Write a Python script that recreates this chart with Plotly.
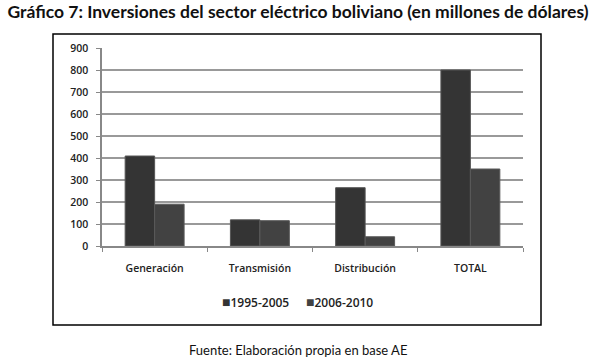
import plotly.graph_objects as go

categories = ["Generación", "Transmisión", "Distribución", "TOTAL"]
series_1995_2005 = [409, 119, 265, 800]
series_2006_2010 = [190, 115, 42, 350]
y_ticks = [0, 100, 200, 300, 400, 500, 600, 700, 800, 900]
series_names = ["1995-2005", "2006-2010"]
series_colors = ["#343434", "#424242"]

fig = go.Figure()
fig.add_bar(x=categories, y=series_1995_2005, name=series_names[0],
            marker=dict(color=series_colors[0], line=dict(color="#555555", width=1)))
fig.add_bar(x=categories, y=series_2006_2010, name=series_names[1],
            marker=dict(color=series_colors[1], line=dict(color="#5a5a5a", width=1)))

L, R, T, B = 102, 73, 48, 118
PW, PH = 596 - L - R, 364 - T - B

def px(x):
    return (x - L) / PW

def py(y):
    return (364 - B - y) / PH

tickfont = dict(family="Open Sans", size=10.5, color="#222", weight=600)

fig.update_layout(
    width=596, height=364,
    margin=dict(l=L, r=R, t=T, b=B),
    paper_bgcolor="white", plot_bgcolor="white",
    barmode="group", bargap=0.44, bargroupgap=0,
    showlegend=False,
    title=dict(text="Gráfico 7: Inversiones del sector eléctrico boliviano (en millones de dólares)",
               x=0.5, xanchor="center", y=1 - 12 / 364, yanchor="middle",
               font=dict(family="Lato", size=17.5, color="#111", weight="bold")),
    xaxis=dict(showline=True, linecolor="#888", linewidth=1.5, ticks="outside",
               tickson="boundaries", ticklen=4, tickcolor="#888", tickfont=tickfont,
               ticklabelstandoff=12),
    yaxis=dict(range=[0, 900], tickvals=y_ticks, showline=True, linecolor="#888", linewidth=1.5,
               ticks="outside", ticklen=4, tickcolor="#888", ticklabelstandoff=6,
               showgrid=True, gridcolor="#999", gridwidth=1.5, zeroline=False, tickfont=tickfont),
)

fig.add_shape(type="rect", xref="paper", yref="paper",
              x0=px(53), x1=px(541), y0=py(325), y1=py(34),
              line=dict(color="black", width=1.5), fillcolor="rgba(0,0,0,0)")

# legend built as text entries
legend_x = [220, 304]
for name, color, lx in zip(series_names, series_colors, legend_x):
    fig.add_annotation(text=f"<span style='color:{color};font-size:14px'>■</span>{name}",
                       xref="paper", yref="paper",
                       x=px(lx), y=py(301), xanchor="left", yanchor="middle", showarrow=False,
                       font=dict(family="Open Sans", size=12, color="#222", weight=600))

fig.add_annotation(text="Fuente: Elaboración propia en base AE", xref="paper", yref="paper",
                   x=px(298), y=py(350), xanchor="center", yanchor="middle",
                   showarrow=False, font=dict(family="Lato", size=13, color="#111"))

fig.write_html("out.html", config={"displayModeBar": False},
               post_script="document.body.style.margin='0';")
